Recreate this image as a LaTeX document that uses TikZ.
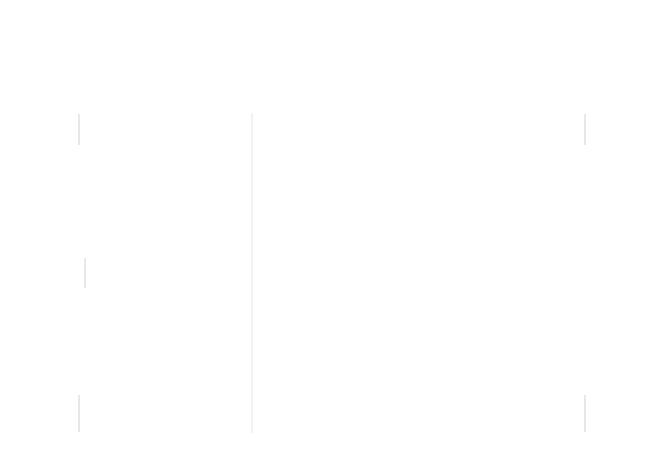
\documentclass[tikz,border=0pt]{standalone}
\usepackage{xcolor}
\usepackage{tikz}
\usetikzlibrary{calc}
\definecolor{faintgray}{gray}{0.91}
\definecolor{palegray}{gray}{0.95}
\tikzset{rule/.style={faintgray, line width=0.3pt}}

\begin{document}
\begin{tikzpicture} [xscale=1, yscale=1]
\useasboundingbox[fill=white] (0,0) rectangle (6.61,4.72);
\draw[palegray, line width=0.3pt] (2.52,3.59)--(2.52,0.39);
\foreach \x in {0.79,5.85} {
 \draw[rule] (\x,3.58) --++(0,-.31);
 \draw[rule] (\x,0.77) --++(0,-.37);
}
\draw[rule] (0.85,2.14) --++(0,-.30);
\end{tikzpicture}
\end{document}
